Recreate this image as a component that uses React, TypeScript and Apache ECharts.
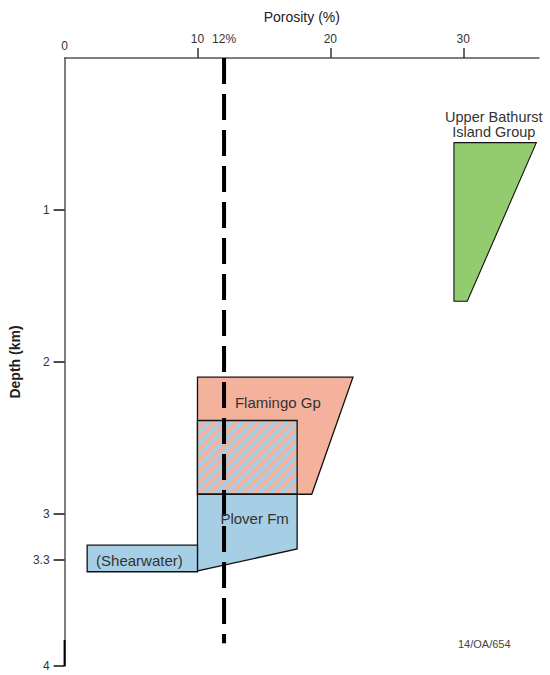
import React, { useEffect, useRef } from 'react';
import * as echarts from 'echarts';

// Axis ticks and labels
const porosityTicks = [10, 20, 30];
const porosityLabels = [10, 12, 20, 30];
const depthTicks = [1, 2, 3, 3.3, 4];
const porosityMax = 35.7;
const depthMax = 4;

// 12% porosity cut-off line: [porosity, depth]
const cutoffLine = [
  [12, 0],
  [12, 3.85],
];

// Formation outlines, each vertex is [porosity %, depth km]
const upperBathurst = [
  [29.3, 0.557],
  [35.5, 0.557],
  [30.3, 1.6],
  [29.3, 1.6],
];
const flamingo = [
  [10, 2.1],
  [21.7, 2.1],
  [18.6, 2.87],
  [10, 2.87],
];
const flamingoPloverOverlap = [
  [10, 2.385],
  [17.5, 2.385],
  [17.5, 2.87],
  [10, 2.87],
];
const plover = [
  [10, 2.87],
  [17.5, 2.87],
  [17.5, 3.23],
  [10, 3.375],
];
const shearwater = [
  [1.7, 3.205],
  [10, 3.205],
  [10, 3.38],
  [1.7, 3.38],
];

const formationNames = ['Upper Bathurst', 'Island Group', 'Flamingo Gp', 'Plover Fm', '(Shearwater)'];

const FONT = '"Liberation Sans", Arial, Helvetica, sans-serif';
const GREEN = '#93cb6f';
const SALMON = '#f4b29d';
const BLUE = '#a6cee4';
const EDGE = '#111';

type Pt = number[];

// keep the part of a polygon where f(p) >= 0
function clipHalf(pts: Pt[], f: (p: Pt) => number): Pt[] {
  const out: Pt[] = [];
  for (let i = 0; i < pts.length; i++) {
    const a = pts[i];
    const b = pts[(i + 1) % pts.length];
    const fa = f(a);
    const fb = f(b);
    if (fa >= 0) out.push(a);
    if (fa >= 0 !== fb >= 0) {
      const t = fa / (fa - fb);
      out.push([a[0] + t * (b[0] - a[0]), a[1] + t * (b[1] - a[1])]);
    }
  }
  return out;
}

function polygonItem(pts: Pt[], fill: string, api: any, lineWidth = 1.3) {
  return {
    type: 'polygon',
    shape: { points: pts.map((p) => api.coord(p)) },
    style: { fill, stroke: EDGE, lineWidth, lineJoin: 'miter' },
  };
}

function textItem(text: string, at: Pt, api: any, extra: any = {}) {
  const [x, y] = api.coord(at);
  return {
    type: 'text',
    x,
    y,
    style: {
      text,
      font: `15px ${FONT}`,
      fill: '#333',
      align: 'center',
      verticalAlign: 'middle',
      ...extra,
    },
  };
}

// label anchors in data space
const labelAnchors: Pt[] = [
  [32.3, 0.39],
  [32.3, 0.488],
  [16.05, 2.268],
  [14.3, 3.03],
  [5.63, 3.305],
];

function shapeSeries(pts: Pt[], render: (api: any) => any, z: number) {
  return {
    type: 'custom',
    coordinateSystem: 'cartesian2d',
    z,
    silent: true,
    data: pts,
    encode: { x: 0, y: 1 },
    renderItem: (params: any, api: any) => (params.dataIndex === 0 ? render(api) : null),
  };
}

function hatchedOverlap(api: any) {
  const rect = flamingoPloverOverlap.map((p) => api.coord(p));
  const sums = rect.map((p) => p[0] + p[1]);
  const lo = Math.min(...sums);
  const hi = Math.max(...sums);
  const period = 11;
  const band = 5.5;
  const children: any[] = [
    { type: 'polygon', shape: { points: rect }, style: { fill: SALMON } },
  ];
  for (let c = lo - period; c < hi + period; c += period) {
    let poly = clipHalf(rect, (p) => p[0] + p[1] - c);
    poly = clipHalf(poly, (p) => c + band - (p[0] + p[1]));
    if (poly.length >= 3) {
      children.push({ type: 'polygon', shape: { points: poly }, style: { fill: BLUE } });
    }
  }
  children.push({
    type: 'polygon',
    shape: { points: rect },
    style: { fill: 'none', stroke: EDGE, lineWidth: 1.3 },
  });
  return { type: 'group', children };
}

export default function App() {
  const ref = useRef<HTMLDivElement>(null);

  useEffect(() => {
    if (!ref.current) return;
    const chart = echarts.init(ref.current, undefined, { renderer: 'svg' });

    const groupLabel = { lineHeight: 14, font: `14.5px ${FONT}` };

    const option: any = {
      animation: false,
      backgroundColor: '#fff',
      textStyle: { fontFamily: FONT },
      grid: { left: 63, right: 11, top: 58, bottom: 9, containLabel: false },
      xAxis: {
        type: 'value',
        position: 'top',
        min: 0,
        max: porosityMax,
        name: 'Porosity (%)',
        nameLocation: 'middle',
        nameGap: 34,
        nameTextStyle: { fontFamily: FONT, fontSize: 14, color: '#222' },
        axisLine: { show: true, onZero: false, lineStyle: { color: '#555', width: 1.5 } },
        axisTick: {
          show: true,
          inside: false,
          length: 10,
          customValues: porosityTicks,
          lineStyle: { color: '#333', width: 1.5 },
        },
        axisLabel: {
          show: true,
          margin: 13,
          customValues: porosityLabels,
          fontFamily: FONT,
          fontSize: 12,
          color: '#333',
          formatter: (v: number) => (v === 12 ? '12%' : String(v)),
        },
        splitLine: { show: false },
      },
      yAxis: {
        type: 'value',
        inverse: true,
        min: 0,
        max: depthMax,
        name: 'Depth (km)',
        nameLocation: 'middle',
        nameGap: 27,
        nameRotate: 90,
        nameTextStyle: { fontFamily: FONT, fontSize: 14, fontWeight: 'bold', color: '#222' },
        axisLine: { show: true, onZero: false, lineStyle: { color: '#555', width: 1.5 } },
        axisTick: {
          show: true,
          inside: false,
          length: 11,
          customValues: depthTicks,
          lineStyle: { color: '#111', width: 1.5 },
        },
        axisLabel: {
          show: true,
          margin: 15,
          customValues: depthTicks,
          fontFamily: FONT,
          fontSize: 12,
          color: '#333',
          formatter: (v: number) => String(v),
        },
        splitLine: { show: false },
      },
      series: [
        shapeSeries(
          upperBathurst,
          (api) => ({
            type: 'group',
            children: [
              polygonItem(upperBathurst, GREEN, api, 1.1),
              textItem(formationNames[0], labelAnchors[0], api, groupLabel),
              textItem(formationNames[1], labelAnchors[1], api, groupLabel),
            ],
          }),
          2
        ),
        shapeSeries(flamingo, (api) => polygonItem(flamingo, SALMON, api), 2),
        shapeSeries(flamingoPloverOverlap, (api) => hatchedOverlap(api), 3),
        shapeSeries(plover, (api) => polygonItem(plover, BLUE, api), 3),
        shapeSeries(shearwater, (api) => polygonItem(shearwater, BLUE, api), 3),
        {
          type: 'line',
          data: cutoffLine,
          z: 5,
          symbol: 'none',
          silent: true,
          lineStyle: { color: '#000', width: 4, type: [26, 10], cap: 'butt' },
        },
        shapeSeries(
          [[0, 0]],
          (api) => {
            const [x0, y0] = api.coord([0, 0]);
            const axisFoot = api.coord([0, depthMax]);
            return {
              type: 'group',
              children: [
                textItem(formationNames[2], labelAnchors[2], api),
                textItem(formationNames[3], labelAnchors[3], api),
                textItem(formationNames[4], labelAnchors[4], api),
                // origin label sits lower than the ticked labels
                {
                  type: 'text',
                  x: x0,
                  y: y0 - 12,
                  style: {
                    text: '0',
                    font: `12px ${FONT}`,
                    fill: '#333',
                    align: 'center',
                    verticalAlign: 'middle',
                  },
                },
                // darker foot of the depth axis
                {
                  type: 'line',
                  shape: { x1: axisFoot[0], y1: axisFoot[1] - 26, x2: axisFoot[0], y2: axisFoot[1] },
                  style: { stroke: '#000', lineWidth: 2 },
                },
              ],
            };
          },
          6
        ),
      ],
      graphic: [
        {
          type: 'text',
          left: 458,
          top: 638,
          style: { text: '14/OA/654', font: `11px ${FONT}`, fill: '#444' },
        },
      ],
    };

    chart.setOption(option);
    return () => chart.dispose();
  }, []);

  return (
    <div
      ref={ref}
      style={{ position: 'fixed', left: 0, top: 0, width: 550, height: 675, background: '#fff' }}
    />
  );
}
